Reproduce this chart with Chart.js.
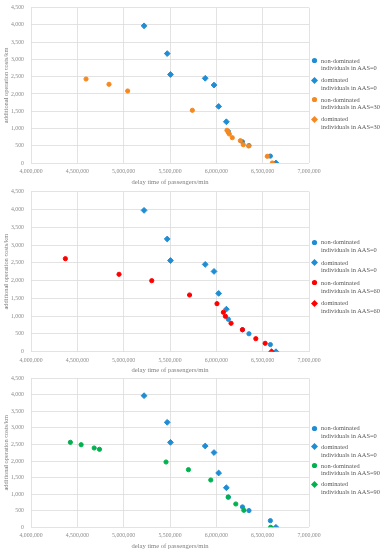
<!DOCTYPE html>
<html><head><meta charset="utf-8">
<script src="https://cdn.jsdelivr.net/npm/chart.js@4.4.0/dist/chart.umd.min.js"></script>
<style>
html,body{margin:0;padding:0;background:#fff;}
#wrap{position:relative;width:385px;height:550px;overflow:hidden;}
canvas{position:absolute;left:0;}
.lg{position:absolute;left:321px;font-family:"Liberation Serif",serif;font-size:6.4px;line-height:7.7px;color:#595959;white-space:nowrap;}
.mk{position:absolute;}
</style></head>
<body><div id="wrap">
<canvas id="c1"></canvas><canvas id="c2"></canvas><canvas id="c3"></canvas>
</div>
<script>
// ---- data ----
const xTicks = [4000000, 4500000, 5000000, 5500000, 6000000, 6500000, 7000000];
const yTicks = [0, 500, 1000, 1500, 2000, 2500, 3000, 3500, 4000, 4500];

const aas0NonDomX = [6130000, 6282000, 6352000, 6583000];
const aas0NonDomY = [910, 615, 505, 200];
const aas0DomX = [5220000, 5470000, 5505000, 5880000, 5975000, 6025000, 6108000, 6643000];
const aas0DomY = [3975, 3170, 2565, 2455, 2258, 1640, 1195, 0];

const aas30NonDomX = [4594000, 4842000, 5043000, 5741000, 6115000, 6129000, 6140000, 6172000, 6259000, 6291000, 6349000, 6550000, 6604000];
const aas30NonDomY = [2434, 2281, 2087, 1527, 948, 890, 840, 733, 646, 530, 493, 194, 0];
const aas30DomX = [];
const aas30DomY = [];

const aas60NonDomX = [4371000, 4950000, 5303000, 5711000, 6007000, 6076000, 6098000, 6159000, 6282000, 6426000, 6527000];
const aas60NonDomY = [2616, 2177, 1997, 1595, 1350, 1108, 996, 799, 619, 366, 236];
const aas60DomX = [6596000];
const aas60DomY = [0];

const aas90NonDomX = [4425000, 4541000, 4682000, 4739000, 5457000, 5699000, 5940000, 6128000, 6210000, 6297000, 6586000];
const aas90NonDomY = [2567, 2494, 2395, 2356, 1972, 1740, 1428, 915, 704, 513, 0];
const aas90DomX = [];
const aas90DomY = [];

const seriesNames = ["non-dominated|individuals in AAS=", "dominated|individuals in AAS="];
// ---- styles ----
const BLUE = '#1f8dd3', ORANGE = '#f5881f', RED = '#ff0000', GREEN = '#00b14f';

function pts(xs, ys){ return xs.map((x,i)=>({x:x, y:ys[i]})); }
function ds(label, xs, ys, color, shape){
  return {label, data: pts(xs, ys), backgroundColor: color, borderColor: color,
    borderWidth: 1, pointStyle: shape, pointRadius: shape==='circle'?2.1:2.9, pointHoverRadius: 3};
}
const fam = "'Liberation Serif', serif";
function makeChart(id, top, height, padTop, xAxisH, colorSets, aas){
  const cv = document.getElementById(id);
  cv.width = 385; cv.height = height; cv.style.top = top + 'px';
  cv.style.width = '385px'; cv.style.height = height + 'px';
  const datasets = [
    ds('d'+aas, colorSets.domX, colorSets.domY, colorSets.color, 'rectRot'),
    ds('n'+aas, colorSets.nonX, colorSets.nonY, colorSets.color, 'circle'),
    ds('d0', aas0DomX, aas0DomY, BLUE, 'rectRot'),
    ds('n0', aas0NonDomX, aas0NonDomY, BLUE, 'circle')
  ];
  new Chart(cv, {
    type: 'scatter',
    data: {datasets},
    options: {
      responsive: false, animation: false, devicePixelRatio: 1,
      layout: {padding: {left: 0, right: 76, top: padTop, bottom: 0}},
      plugins: {legend: {display: false}, tooltip: {enabled: false}},
      scales: {
        x: {type: 'linear', min: xTicks[0], max: xTicks[xTicks.length-1],
          afterBuildTicks: s => { s.ticks = xTicks.map(v => ({value: v})); },
          afterFit: s => { s.height = xAxisH; s.paddingLeft = 0; s.paddingRight = 0; },
          ticks: {callback: v => v.toLocaleString('en-US'), font: {family: fam, size: 5.8}, color: '#8c8c8c', padding: 5, maxRotation: 0, autoSkip: false},
          grid: {color: '#dcdcdc', lineWidth: 0.8, drawTicks: false},
          border: {display: false},
          title: {display: true, text: 'delay time of passengers/min', font: {family: fam, size: 6.6}, color: '#808080', padding: {top: 1, bottom: 0}}
        },
        y: {min: yTicks[0], max: yTicks[yTicks.length-1],
          afterBuildTicks: s => { s.ticks = yTicks.map(v => ({value: v})); },
          afterFit: s => { s.width = 31; s.paddingTop = 0; s.paddingBottom = 0; },
          ticks: {callback: v => v.toLocaleString('en-US'), font: {family: fam, size: 5.8}, color: '#8c8c8c', padding: 7},
          grid: {color: '#dcdcdc', lineWidth: 0.8, drawTicks: false},
          border: {display: false},
          title: {display: true, text: 'additional operation costs/km', font: {family: fam, size: 6.4}, color: '#808080', padding: {top: 2, bottom: 0}}
        }
      }
    }
  });
}

function marker(shape, color, cx, cy){
  const NS = 'http://www.w3.org/2000/svg';
  const s = document.createElementNS(NS, 'svg');
  s.setAttribute('width', 9); s.setAttribute('height', 9);
  s.setAttribute('class', 'mk');
  s.style.left = (cx - 4.5) + 'px'; s.style.top = (cy - 4.5) + 'px';
  let el;
  if (shape === 'circle') { el = document.createElementNS(NS, 'circle'); el.setAttribute('cx', 4.5); el.setAttribute('cy', 4.5); el.setAttribute('r', 2.6); }
  else { el = document.createElementNS(NS, 'polygon'); el.setAttribute('points', '4.5,1 8,4.5 4.5,8 1,4.5'); }
  el.setAttribute('fill', color);
  s.appendChild(el);
  document.getElementById('wrap').appendChild(s);
}
function legend(firstY, step, aas, color){
  const items = [
    [seriesNames[0], '0', BLUE, 'circle'],
    [seriesNames[1], '0', BLUE, 'rectRot'],
    [seriesNames[0], aas, color, 'circle'],
    [seriesNames[1], aas, color, 'rectRot']
  ];
  items.forEach((it, i) => {
    const y = firstY + i * step;
    marker(it[3], it[2], 314.5, y);
    const d = document.createElement('div');
    d.className = 'lg';
    d.style.top = (y - 3.85) + 'px';
    const parts = it[0].split('|');
    d.innerHTML = parts[0] + '<br>' + parts[1] + it[1];
    document.getElementById('wrap').appendChild(d);
  });
}

makeChart('c1', 0, 186, 7.7, 23, {nonX: aas30NonDomX, nonY: aas30NonDomY, domX: aas30DomX, domY: aas30DomY, color: ORANGE}, '30');
makeChart('c2', 186, 188, 5.7, 22.3, {nonX: aas60NonDomX, nonY: aas60NonDomY, domX: aas60DomX, domY: aas60DomY, color: RED}, '60');
makeChart('c3', 374, 176, 4.3, 22.7, {nonX: aas90NonDomX, nonY: aas90NonDomY, domX: aas90DomX, domY: aas90DomY, color: GREEN}, '90');

legend(60.5, 19.5, '30', ORANGE);
legend(242.3, 20.3, '60', RED);
legend(428, 18.7, '90', GREEN);
</script>
</body></html>
